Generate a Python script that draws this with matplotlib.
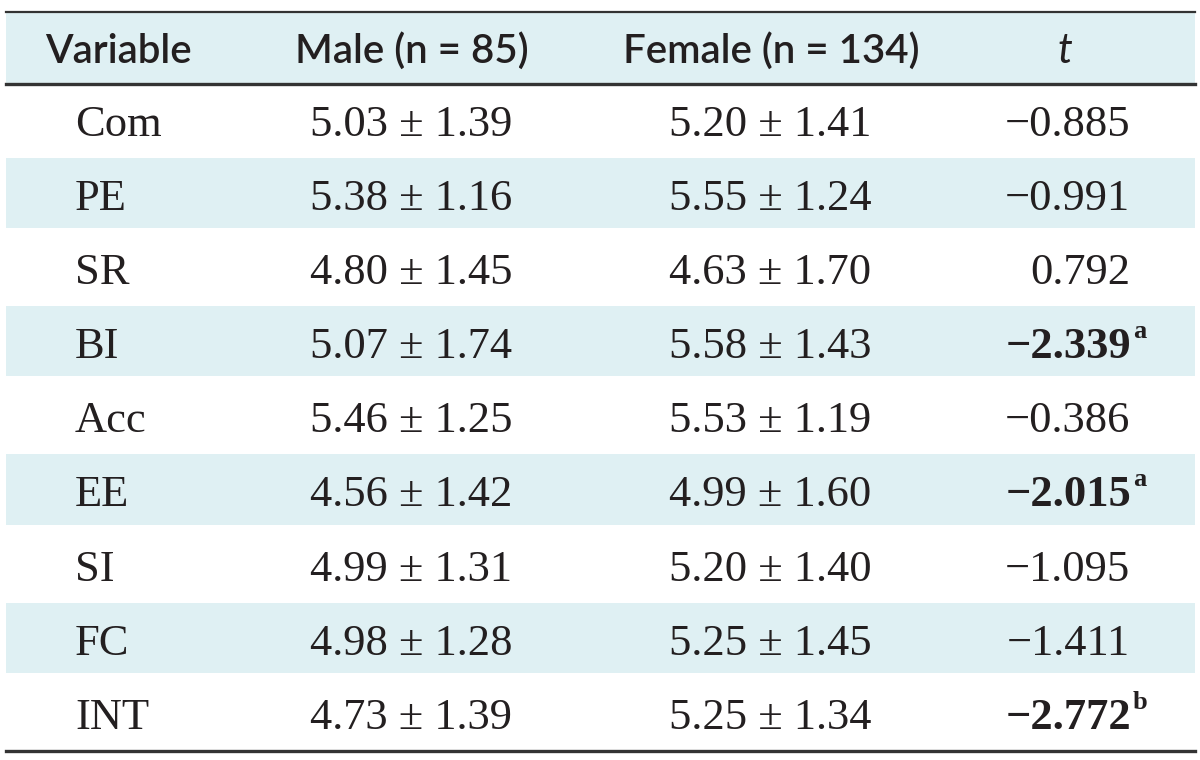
import matplotlib.pyplot as plt
from matplotlib.patches import Rectangle

variables = ['Com', 'PE', 'SR', 'BI', 'Acc', 'EE', 'SI', 'FC', 'INT']
male = ['5.03 ± 1.39', '5.38 ± 1.16', '4.80 ± 1.45', '5.07 ± 1.74', '5.46 ± 1.25',
        '4.56 ± 1.42', '4.99 ± 1.31', '4.98 ± 1.28', '4.73 ± 1.39']
female = ['5.20 ± 1.41', '5.55 ± 1.24', '4.63 ± 1.70', '5.58 ± 1.43', '5.53 ± 1.19',
          '4.99 ± 1.60', '5.20 ± 1.40', '5.25 ± 1.45', '5.25 ± 1.34']
t_vals = ['−0.885', '−0.991', '0.792', '−2.339', '−0.386', '−2.015', '−1.095', '−1.411', '−2.772']
t_mark = ['', '', '', 'a', '', 'a', '', '', 'b']
headers = ['Variable', 'Male (n = 85)', 'Female (n = 134)', 't']

band = '#dff0f3'
ink = '#231f20'
serif = 'Liberation Serif'
sans = 'Lato'

fig = plt.figure(figsize=(12, 7.6), dpi=100)
ax = fig.add_axes([0, 0, 1, 1])
ax.set_xlim(0, 1200)
ax.set_ylim(760, 0)
ax.axis('off')

x0, x1 = 6, 1195
top, head_bot = 12, 83.5
row_h = (751 - head_bot) / len(variables)

# header
ax.add_patch(Rectangle((x0, top), x1 - x0, head_bot - top, color=band, lw=0))
hy = (top + head_bot) / 2 + 15
hkw = dict(ha='center', va='baseline', fontsize=29, family=sans, weight='semibold', color=ink)
ax.text(118, hy, headers[0], **hkw)
ax.text(412, hy, headers[1], **hkw)
ax.text(771, hy, headers[2], **hkw)
ax.text(1065, hy, headers[3], ha='center', va='baseline', fontsize=30, family=sans,
        style='italic', color=ink)

for i, var in enumerate(variables):
    rt = head_bot + i * row_h
    if i % 2 == 1:
        ax.add_patch(Rectangle((x0, rt), x1 - x0, row_h - 4, color=band, lw=0))
    y = rt + row_h / 2 + 15
    ax.text(75, y, var, ha='left', va='baseline', fontsize=32, family=serif, color=ink)
    ax.text(411, y, male[i], ha='center', va='baseline', fontsize=32, family=serif, color=ink)
    ax.text(770, y, female[i], ha='center', va='baseline', fontsize=32, family=serif, color=ink)
    if t_mark[i]:
        ax.text(1131, y, t_vals[i], ha='right', va='baseline', fontsize=32, family=serif,
                weight='bold', color=ink)
        ax.text(1133, y - 20, t_mark[i], ha='left', va='baseline', fontsize=19, family=serif,
                weight='bold', color=ink)
    else:
        ax.text(1130, y, t_vals[i], ha='right', va='baseline', fontsize=32, family=serif, color=ink)

ax.plot([x0, x1], [top, top], color='#333333', lw=1.6)
ax.plot([x0, x1], [head_bot, head_bot], color='#333333', lw=2.4)
ax.plot([x0, x1], [751, 751], color='#333333', lw=2.4)

fig.savefig('out.png', dpi=100)
